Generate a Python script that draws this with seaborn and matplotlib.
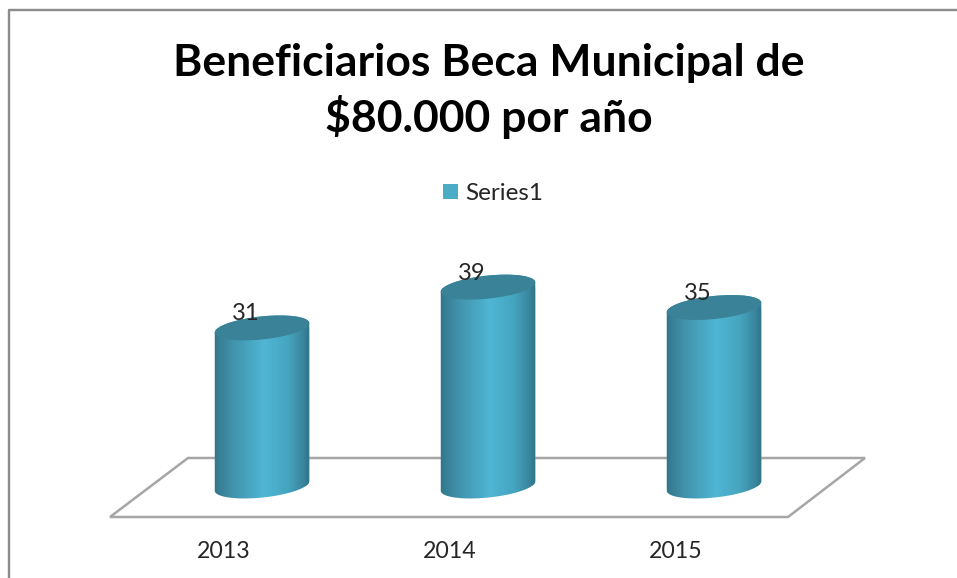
import numpy as np
import matplotlib
matplotlib.use("Agg")
import matplotlib.pyplot as plt
import seaborn as sns
import pandas as pd
from matplotlib.colors import LinearSegmentedColormap
from matplotlib.lines import Line2D
from matplotlib.patches import Ellipse, Patch, Polygon
from matplotlib.path import Path
from matplotlib.transforms import IdentityTransform

years = ["2013", "2014", "2015"]
beneficiarios = [31, 39, 35]
series_name = "Series1"
title = "Beneficiarios Beca Municipal de\n$80.000 por año"

W, H = 957, 578
FONT = "Lato"
TEXT = "#262626"
PX = 72 / 100  # points per pixel at dpi 100

sns.set_theme(style="white")
plt.rcParams["font.family"] = [FONT, "DejaVu Sans"]

fig = plt.figure(figsize=(W / 100, H / 100), dpi=100)
ax = fig.add_axes([0, 0, 1, 1])

df = pd.DataFrame({"year": years, "n": beneficiarios})
sns.barplot(data=df, x="year", y="n", color="#4bacc6", width=95 / 226, saturation=1, ax=ax, zorder=3)

# pixel scale of the picture: 226 px between bars, 5.1 px per beneficiary
xlim = (-262 / 226, (W - 262) / 226)
ylim = (-(H - 486) / 5.1, 486 / 5.1)
ax.set_xlim(xlim)
ax.set_ylim(ylim)
ax.axis("off")

# chart frame, open to the right and bottom
frame = Line2D([8.5 / W, 8.5 / W, 1], [0, 1 - 10 / H, 1 - 10 / H], transform=fig.transFigure, color="#8c8c8c", lw=2.4 * PX)
fig.add_artist(frame)

# floor
floor_px = [(110, 517), (188, 458), (865, 458), (788, 517)]
floor = Polygon([(x, H - y) for x, y in floor_px], closed=True, fill=False, edgecolor="#a6a6a6", lw=2.5 * PX, transform=IdentityTransform(), zorder=1)
ax.add_patch(floor)

cyl = LinearSegmentedColormap.from_list(
	"cyl",
	[(0, "#2c6f82"), (0.06, "#377d92"), (0.2, "#4192ab"), (0.52, "#4fb6d3"), (0.76, "#46a5c0"), (0.92, "#39849c"), (1, "#2d6d80")],
)
grad = np.linspace(0, 1, 200).reshape(1, -1)


def ellipse_pts(cx, cy, a=47.5, b=11.5, angle=6):
	t = np.linspace(0, 2 * np.pi, 121)
	r = np.radians(angle)
	x = a * np.cos(t)
	y = b * np.sin(t)
	return np.column_stack([cx + x * np.cos(r) - y * np.sin(r), cy + x * np.sin(r) + y * np.cos(r)])


for i, (bar, val) in enumerate(zip(ax.patches, beneficiarios)):
	x0 = bar.get_x()
	x1 = x0 + bar.get_width()
	cx, top = ax.transData.transform((i, val))
	_, base = ax.transData.transform((i, 0))
	# side of the cylinder: upper half of the top ellipse, lower half of the base ellipse
	up = ellipse_pts(cx, top)[:61]
	low = ellipse_pts(cx, base)[60:]
	body = Path(np.vstack([up, low, up[:1]]))
	bar.set_clip_path(body, IdentityTransform())
	im = ax.imshow(grad, cmap=cyl, extent=(x0 - 0.01, x1 + 0.01, -4, val + 4), aspect="auto", zorder=4)
	im.set_clip_path(body, IdentityTransform())
	cap = Ellipse((cx, top), 95, 23, angle=6, transform=IdentityTransform(), facecolor="#3a8297", edgecolor="none", zorder=5)
	ax.add_patch(cap)
	ax.annotate(str(val), (i, val), xytext=(-16 * PX, 14 * PX), textcoords="offset points", ha="center", va="center", fontsize=17, color=TEXT, zorder=6)
	ax.annotate(years[i], (i, 0), xytext=(-38 * PX, -65 * PX), textcoords="offset points", ha="center", va="center", fontsize=16.7, color=TEXT, annotation_clip=False)

ax.set_xlim(xlim)
ax.set_ylim(ylim)

fig.text(488.5 / W, 1 - 91 / H, title, ha="center", va="center", fontsize=32, fontweight="bold", color="black", linespacing=1.3)

handle = Patch(facecolor="#4bacc6", edgecolor="none")
fig.legend(
	[handle], [series_name], loc="center", bbox_to_anchor=(493.5 / W, 1 - 194 / H), frameon=False,
	fontsize=17.5, labelcolor=TEXT, handlelength=0.58, handleheight=0.58, handletextpad=0.33,
)

fig.savefig("out.png", dpi=100)
